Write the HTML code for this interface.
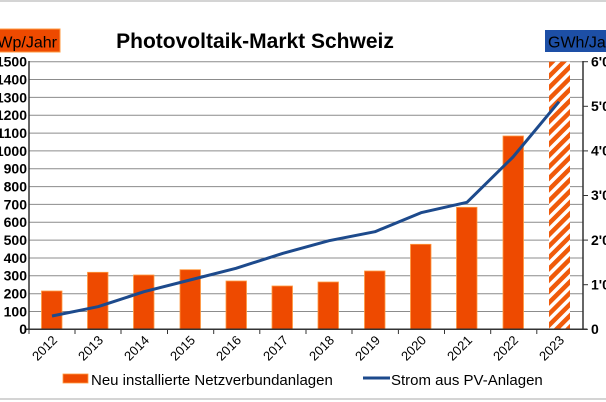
<!DOCTYPE html>
<html><head><meta charset="utf-8"><style>
html,body{margin:0;padding:0;background:#fff;}
svg{display:block;font-family:"Liberation Sans",Arial,sans-serif;}
</style></head><body>
<svg width="606" height="402" viewBox="0 0 606 402" xmlns="http://www.w3.org/2000/svg">
<defs>
<pattern id="h" patternUnits="userSpaceOnUse" width="8" height="8" patternTransform="rotate(45)">
<rect width="8" height="8" fill="#fff"/><rect width="4.5" height="8" fill="#f05a0a"/>
</pattern>
</defs>
<line x1="0" y1="1" x2="606" y2="1" stroke="#aaa" stroke-width="1"/>
<line x1="0" y1="399" x2="606" y2="399" stroke="#aaa" stroke-width="1"/>
<g stroke="#8c8c8c" stroke-width="1">
<line x1="29" x2="583" y1="61.7" y2="61.7"/><line x1="29" x2="583" y1="79.5" y2="79.5"/>
<line x1="29" x2="583" y1="97.4" y2="97.4"/><line x1="29" x2="583" y1="115.2" y2="115.2"/>
<line x1="29" x2="583" y1="133.1" y2="133.1"/><line x1="29" x2="583" y1="150.9" y2="150.9"/>
<line x1="29" x2="583" y1="168.8" y2="168.8"/><line x1="29" x2="583" y1="186.6" y2="186.6"/>
<line x1="29" x2="583" y1="204.4" y2="204.4"/><line x1="29" x2="583" y1="222.3" y2="222.3"/>
<line x1="29" x2="583" y1="240.1" y2="240.1"/><line x1="29" x2="583" y1="258" y2="258"/>
<line x1="29" x2="583" y1="275.8" y2="275.8"/><line x1="29" x2="583" y1="293.7" y2="293.7"/>
<line x1="29" x2="583" y1="311.5" y2="311.5"/>
</g>
<g fill="#ee4a00" stroke="#ff9a40" stroke-width="0.8">
<rect x="41.5" y="291" width="20.5" height="38.3"/>
<rect x="87.5" y="272.3" width="20.5" height="57"/>
<rect x="133.5" y="275" width="20.5" height="54.3"/>
<rect x="180" y="269.7" width="20.5" height="59.6"/>
<rect x="226" y="281" width="20.5" height="48.3"/>
<rect x="272" y="286" width="20.5" height="43.3"/>
<rect x="318" y="282" width="20.5" height="47.3"/>
<rect x="364.5" y="271" width="20.5" height="58.3"/>
<rect x="410.5" y="244.3" width="20.5" height="85"/>
<rect x="456.5" y="207.3" width="20.5" height="122"/>
<rect x="503" y="136" width="20.5" height="193.3"/>
</g>
<rect x="549" y="61.7" width="21" height="267.6" fill="url(#h)"/>
<line x1="29" y1="61" x2="29" y2="330" stroke="#333" stroke-width="1.5"/>
<line x1="583" y1="61" x2="583" y2="330" stroke="#333" stroke-width="1.5"/>
<line x1="25" y1="329.3" x2="587" y2="329.3" stroke="#333" stroke-width="1.5"/>
<g stroke="#333" stroke-width="1">
<line x1="75" x2="75" y1="329" y2="334"/><line x1="121" x2="121" y1="329" y2="334"/>
<line x1="167.5" x2="167.5" y1="329" y2="334"/><line x1="213.7" x2="213.7" y1="329" y2="334"/>
<line x1="259.8" x2="259.8" y1="329" y2="334"/><line x1="306" x2="306" y1="329" y2="334"/>
<line x1="352" x2="352" y1="329" y2="334"/><line x1="398.4" x2="398.4" y1="329" y2="334"/>
<line x1="444.5" x2="444.5" y1="329" y2="334"/><line x1="490.7" x2="490.7" y1="329" y2="334"/>
<line x1="536.8" x2="536.8" y1="329" y2="334"/><line x1="29" x2="29" y1="329" y2="334"/>
<line x1="583" x2="588" y1="61.7" y2="61.7"/><line x1="583" x2="588" y1="106.3" y2="106.3"/>
<line x1="583" x2="588" y1="150.9" y2="150.9"/><line x1="583" x2="588" y1="195.5" y2="195.5"/>
<line x1="583" x2="588" y1="240.1" y2="240.1"/><line x1="583" x2="588" y1="284.7" y2="284.7"/>
<line x1="583" x2="588" y1="329.3" y2="329.3"/>
</g>
<polyline fill="none" stroke="#1d4a8c" stroke-width="3" stroke-linejoin="round" points="52,316 98,306.7 144,291.7 190,280 236,268.3 283,253.3 329,240.7 375,231.7 421,212.7 467,202.3 513,157 559,101.7"/>
<g font-size="14" font-weight="bold" text-anchor="end" fill="#000">
<text x="27" y="66.5">1500</text><text x="27" y="84.5">1400</text><text x="27" y="102.5">1300</text>
<text x="27" y="120">1200</text><text x="27" y="138">1100</text><text x="27" y="156">1000</text>
<text x="27" y="173.5">900</text><text x="27" y="191.5">800</text><text x="27" y="209.5">700</text>
<text x="27" y="227">600</text><text x="27" y="245">500</text><text x="27" y="263">400</text>
<text x="27" y="280.5">300</text><text x="27" y="298.5">200</text><text x="27" y="316.5">100</text>
<text x="27" y="334">0</text>
</g>
<g font-size="14" font-weight="bold" fill="#000">
<text x="591" y="66.5">6'000</text><text x="591" y="111">5'000</text><text x="591" y="155.5">4'000</text>
<text x="591" y="200">3'000</text><text x="591" y="245">2'000</text><text x="591" y="289.5">1'000</text>
<text x="591" y="334">0</text>
</g>
<g font-size="13" fill="#000" text-anchor="end">
<text transform="translate(58,341) rotate(-45)">2012</text>
<text transform="translate(104,341) rotate(-45)">2013</text>
<text transform="translate(150,341) rotate(-45)">2014</text>
<text transform="translate(196,341) rotate(-45)">2015</text>
<text transform="translate(242,341) rotate(-45)">2016</text>
<text transform="translate(289,341) rotate(-45)">2017</text>
<text transform="translate(335,341) rotate(-45)">2018</text>
<text transform="translate(381,341) rotate(-45)">2019</text>
<text transform="translate(427,341) rotate(-45)">2020</text>
<text transform="translate(473,341) rotate(-45)">2021</text>
<text transform="translate(519,341) rotate(-45)">2022</text>
<text transform="translate(565,341) rotate(-45)">2023</text>
</g>
<text x="255" y="48" font-size="21" font-weight="bold" text-anchor="middle" fill="#000">Photovoltaik-Markt Schweiz</text>
<rect x="-2" y="29" width="62" height="23" fill="#ee4a00" stroke="#ff9a40" stroke-width="1"/>
<text x="57" y="47.5" font-size="16" text-anchor="end" fill="#000">Wp/Jahr</text>
<rect x="545" y="30" width="64" height="22" fill="#1d4fa6"/>
<text x="548" y="47.5" font-size="16" fill="#000">GWh/Jahr</text>
<rect x="63" y="374" width="25" height="9" fill="#ee4a00" stroke="#ff9a40" stroke-width="0.8"/>
<text x="91" y="385" font-size="15" fill="#000">Neu installierte Netzverbundanlagen</text>
<line x1="363" y1="378" x2="390" y2="378" stroke="#1d4a8c" stroke-width="3"/>
<text x="391" y="385" font-size="15" fill="#000">Strom aus PV-Anlagen</text>
</svg>
</body></html>
